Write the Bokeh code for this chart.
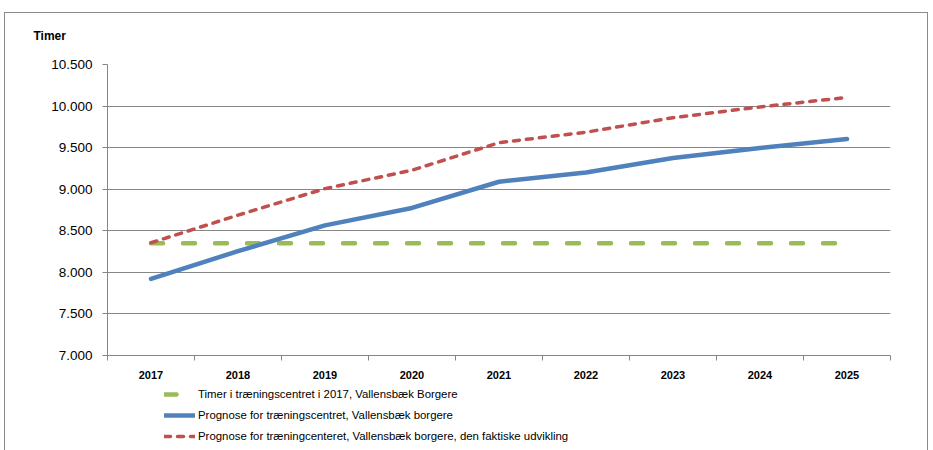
from bokeh.plotting import figure
from bokeh.layouts import column
from bokeh.models import FixedTicker, Legend, LegendItem, Range1d, Title
from bokeh.embed import file_html
from bokeh.resources import INLINE

years = ["2017", "2018", "2019", "2020", "2021", "2022", "2023", "2024", "2025"]
baseline_2017 = [8350, 8350, 8350, 8350, 8350, 8350, 8350, 8350, 8350]
prognose = [7922, 8255, 8565, 8775, 9090, 9200, 9375, 9497, 9603]
faktisk = [8356, 8688, 9007, 9228, 9560, 9686, 9860, 9990, 10104]
y_ticks = [7000, 7500, 8000, 8500, 9000, 9500, 10000, 10500]
y_tick_labels = ["7.000", "7.500", "8.000", "8.500", "9.000", "9.500", "10.000", "10.500"]
series_names = [
    "Timer i træningscentret i 2017, Vallensbæk Borgere",
    "Prognose for træningscentret, Vallensbæk borgere",
    "Prognose for træningcenteret, Vallensbæk borgere, den faktiske udvikling",
]

xs = list(range(len(years)))
series = [baseline_2017, prognose, faktisk]
FONT = "Liberation Sans"
GRAY = "#868686"
BORDER = "1px solid #8a8a8a"

STYLES = [
    dict(line_color="#9BBB59", line_width=4.5, line_dash="12 20", line_cap="round"),
    dict(line_color="#4F81BD", line_width=4.5, line_cap="round", line_join="round"),
    dict(line_color="#C0504D", line_width=3.5, line_dash="6 7", line_cap="round"),
]

p = figure(width=924, height=374, output_backend="svg", toolbar_location=None,
           x_range=Range1d(-0.5, len(years) - 0.5), y_range=Range1d(7000, 10500),
           min_border_left=102, min_border_right=39, min_border_top=51, min_border_bottom=32)
p.margin = (12, 0, 0, 4)
p.styles = {"border-left": BORDER, "border-right": BORDER, "border-top": BORDER}
p.outline_line_color = None
p.background_fill_color = "white"
p.border_fill_color = "white"

# axes
p.xaxis.ticker = FixedTicker(ticks=xs, minor_ticks=[x - 0.5 for x in xs] + [len(years) - 0.5])
p.xaxis.major_label_overrides = {x: y for x, y in zip(xs, years)}
p.xaxis.major_tick_out = 0
p.xaxis.major_tick_in = 0
p.xaxis.minor_tick_out = 5
p.xaxis.minor_tick_in = 0
p.xaxis.minor_tick_line_color = GRAY
p.xaxis.axis_line_color = GRAY
p.xaxis.major_label_text_font = FONT
p.xaxis.major_label_text_font_style = "bold"
p.xaxis.major_label_text_font_size = "11px"
p.xaxis.major_label_text_color = "black"
p.xaxis.major_label_standoff = 10

p.yaxis.ticker = FixedTicker(ticks=y_ticks)
p.yaxis.major_label_overrides = {t: l for t, l in zip(y_ticks, y_tick_labels)}
p.yaxis.major_tick_out = 5
p.yaxis.major_tick_in = 0
p.yaxis.minor_tick_line_color = None
p.yaxis.major_tick_line_color = GRAY
p.yaxis.axis_line_color = GRAY
p.yaxis.major_label_text_font = FONT
p.yaxis.major_label_text_font_size = "13.5px"
p.yaxis.major_label_text_color = "black"
p.yaxis.major_label_standoff = 10

p.xgrid.grid_line_color = None
p.ygrid.ticker = FixedTicker(ticks=y_ticks)
p.ygrid.grid_line_color = GRAY
p.ygrid.grid_line_width = 1

for ys, st in zip(series, STYLES):
    p.line(xs, ys, **st)

# spacer (closest to the frame), then the unit label above it
p.add_layout(Title(text=" ", standoff=6, text_font=FONT, text_font_style="bold",
                   text_font_size="12px"), "above")
p.add_layout(Title(text="Timer", align="left", offset=-74, standoff=0,
                   text_font=FONT, text_font_style="bold", text_font_size="12px",
                   text_color="black"), "above")

# legend strip below the chart (its renderers lie outside its visible range)
p2 = figure(width=924, height=64, output_backend="svg", toolbar_location=None,
            x_axis_type=None, y_axis_type=None,
            x_range=Range1d(-0.5, len(years) - 0.5), y_range=Range1d(0, 1),
            min_border_left=0, min_border_right=0, min_border_top=0, min_border_bottom=0)
p2.margin = (0, 0, 0, 4)
p2.styles = {"border-left": BORDER, "border-right": BORDER}
p2.outline_line_color = None
p2.xgrid.visible = False
p2.ygrid.visible = False
p2.background_fill_color = "white"
p2.border_fill_color = "white"
legend_renderers = [p2.line(xs, ys, **st) for ys, st in zip(series, STYLES)]

legend = Legend(items=[LegendItem(label=name, renderers=[r])
                       for name, r in zip(series_names, legend_renderers)],
                location=(57, 4), orientation="vertical",
                glyph_width=31, glyph_height=20, label_height=20, spacing=1,
                label_standoff=3, padding=0, margin=0,
                border_line_color=None, background_fill_alpha=0,
                label_text_font=FONT, label_text_font_size="11.4px",
                label_text_color="black")
p2.add_layout(legend, "center")

layout = column(p, p2, spacing=0)
open("out.html", "w").write(file_html(layout, INLINE))
